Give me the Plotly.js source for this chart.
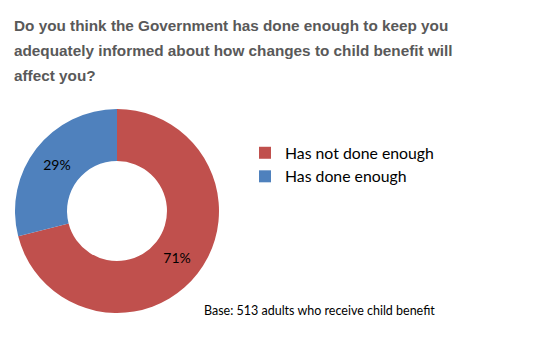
<!DOCTYPE html>
<html>
<head>
<meta charset="utf-8">
<script src="https://cdn.plot.ly/plotly-3.0.1.min.js"></script>
<style>html,body{margin:0;padding:0;background:#fff;}#chart{width:550px;height:340px;}</style>
</head>
<body>
<div id="chart"></div>
<script>
const categories = ["Has not done enough", "Has done enough"];
const values = [71, 29];
const colors = ["#C0504D", "#4F81BD"];
const titleLines = [
  "Do you think the Government has done enough to keep you",
  "adequately informed about how changes to child benefit will",
  "affect you?"
];
const baseNote = "Base: 513 adults who receive child benefit";

const trace = {
  type: "pie",
  labels: categories,
  values: values,
  hole: 0.49,
  sort: false,
  direction: "clockwise",
  rotation: 0,
  marker: {colors: colors, line: {width: 0}},
  textinfo: "percent",
  texttemplate: "%{value}%",
  textposition: "inside",
  insidetextorientation: "horizontal",
  textfont: {family: "Lato, sans-serif", size: 14, color: "#000"},
  hoverinfo: "none",
  domain: {x: [14/550, 220/550], y: [1 - 313/340, 1 - 109/340]}
};

const titleY = [26, 50.5, 75];
const annotations = titleLines.map((t, i) => ({
  text: t,
  xref: "paper", yref: "paper",
  x: 12/550, y: 1 - titleY[i]/340,
  xanchor: "left", yanchor: "middle",
  showarrow: false,
  font: {family: "Liberation Sans, Arial, sans-serif", size: 15.3, color: "#595959", weight: "bold"}
}));
annotations.push({
  text: baseNote,
  xref: "paper", yref: "paper",
  x: 202/550, y: 1 - 310/340,
  xanchor: "left", yanchor: "middle",
  showarrow: false,
  font: {family: "Lato, sans-serif", size: 12.5, color: "#000"}
});

const layout = {
  width: 550, height: 340,
  margin: {l: 0, r: 0, t: 0, b: 0},
  paper_bgcolor: "#fff",
  plot_bgcolor: "#fff",
  showlegend: true,
  legend: {
    x: 245/550, xanchor: "left",
    y: 1 - 136/340, yanchor: "top",
    font: {family: "Lato, sans-serif", size: 15.8, color: "#000"},
    itemwidth: 30,
    tracegroupgap: 0
  },
  annotations: annotations
};

Plotly.newPlot("chart", [trace], layout, {displayModeBar: false, staticPlot: true});
</script>
</body>
</html>
